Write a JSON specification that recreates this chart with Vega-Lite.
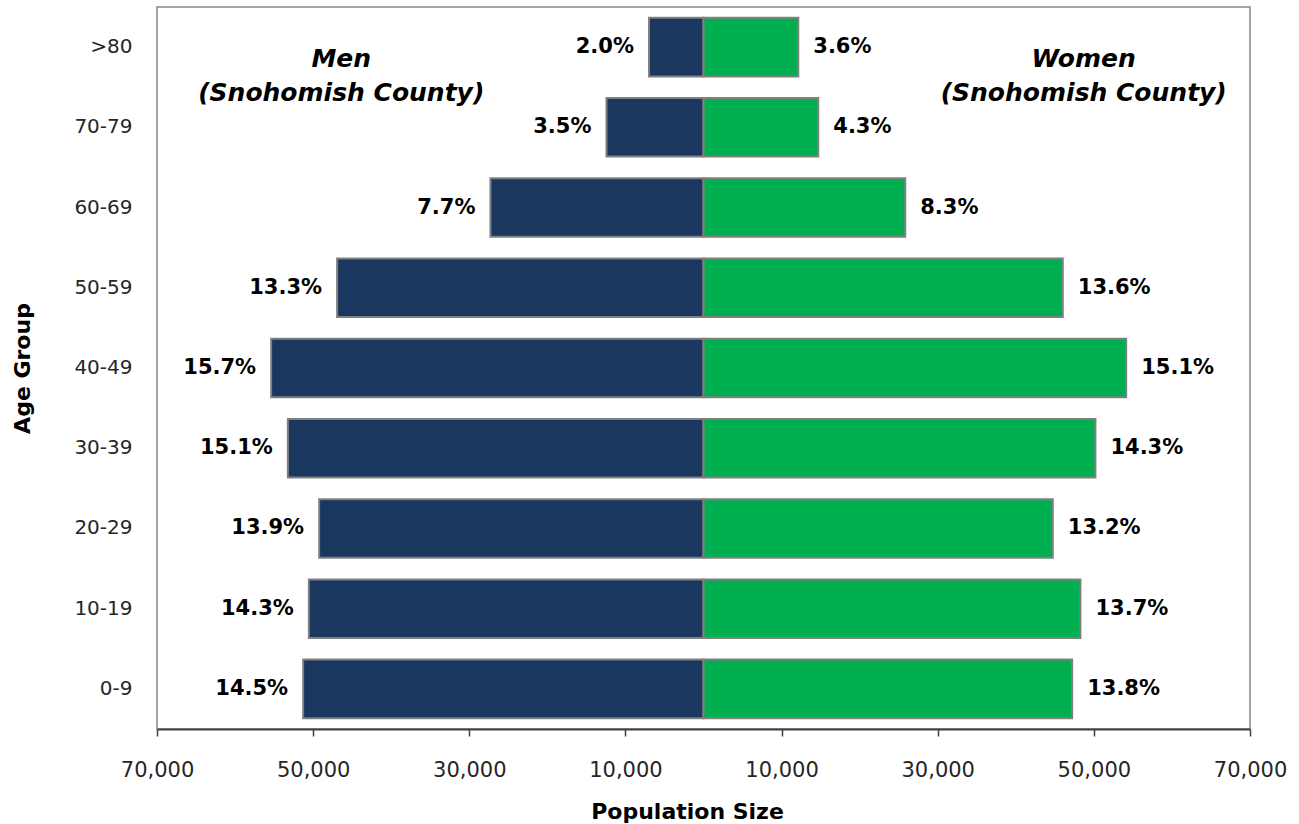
{
  "$schema": "https://vega.github.io/schema/vega-lite/v6.json",
  "autosize": {"type": "none"},
  "padding": {"left": 157, "top": 7, "right": 49, "bottom": 95},
  "width": 1093,
  "height": 722,
  "background": "white",
  "config": {
    "font": "DejaVu Sans",
    "view": {"stroke": "#868686", "strokeWidth": 1.5}
  },
  "datasets": {
    "pyramid": [
      {"age": ">80", "sex": "Men", "value": -6980, "label": "2.0%"},
      {"age": "70-79", "sex": "Men", "value": -12430, "label": "3.5%"},
      {"age": "60-69", "sex": "Men", "value": -27290, "label": "7.7%"},
      {"age": "50-59", "sex": "Men", "value": -46930, "label": "13.3%"},
      {"age": "40-49", "sex": "Men", "value": -55380, "label": "15.7%"},
      {"age": "30-39", "sex": "Men", "value": -53240, "label": "15.1%"},
      {"age": "20-29", "sex": "Men", "value": -49230, "label": "13.9%"},
      {"age": "10-19", "sex": "Men", "value": -50550, "label": "14.3%"},
      {"age": "0-9", "sex": "Men", "value": -51280, "label": "14.5%"},
      {"age": ">80", "sex": "Women", "value": 12140, "label": "3.6%"},
      {"age": "70-79", "sex": "Women", "value": 14700, "label": "4.3%"},
      {"age": "60-69", "sex": "Women", "value": 25840, "label": "8.3%"},
      {"age": "50-59", "sex": "Women", "value": 46020, "label": "13.6%"},
      {"age": "40-49", "sex": "Women", "value": 54140, "label": "15.1%"},
      {"age": "30-39", "sex": "Women", "value": 50200, "label": "14.3%"},
      {"age": "20-29", "sex": "Women", "value": 44740, "label": "13.2%"},
      {"age": "10-19", "sex": "Women", "value": 48280, "label": "13.7%"},
      {"age": "0-9", "sex": "Women", "value": 47220, "label": "13.8%"}
    ],
    "notes": [
      {"age": ">80", "x": -46400, "text": "Men\n(Snohomish County)"},
      {"age": ">80", "x": 48700, "text": "Women\n(Snohomish County)"}
    ]
  },
  "layer": [
    {
      "data": {"name": "pyramid"},
      "mark": {"type": "bar", "stroke": "#808080", "strokeWidth": 2},
      "encoding": {
        "y": {
          "field": "age",
          "type": "nominal",
          "sort": [">80", "70-79", "60-69", "50-59", "40-49", "30-39", "20-29", "10-19", "0-9"],
          "scale": {"paddingInner": 0.27, "paddingOuter": 0.135},
          "axis": {
            "title": "Age Group",
            "titleFont": "DejaVu Sans",
            "titleFontSize": 22,
            "titleFontWeight": "bold",
            "titleColor": "#000000",
            "titleX": -135,
            "titleY": 361,
            "titleAngle": -90,
            "titleBaseline": "middle",
            "titleAlign": "center",
            "domain": false,
            "ticks": false,
            "labelPadding": 25,
            "labelFontSize": 20,
            "labelColor": "#262626",
            "labelFont": "DejaVu Sans"
          }
        },
        "x": {
          "field": "value",
          "type": "quantitative",
          "scale": {"domain": [-70000, 70000], "nice": false, "zero": false},
          "axis": {
            "title": "Population Size",
            "titleFont": "DejaVu Sans",
            "titleFontSize": 22,
            "titleFontWeight": "bold",
            "titleColor": "#000000",
            "titleX": 530,
            "titleY": 89,
            "titleBaseline": "alphabetic",
            "titleAlign": "center",
            "values": [-70000, -50000, -30000, -10000, 10000, 30000, 50000, 70000],
            "labelExpr": "format(abs(datum.value), ',')",
            "labelFlush": false,
            "labelOverlap": false,
            "labelBound": false,
            "grid": false,
            "domainColor": "#404040",
            "domainWidth": 2,
            "tickColor": "#404040",
            "tickWidth": 1.5,
            "tickSize": 7,
            "labelPadding": 23,
            "labelFontSize": 21,
            "labelColor": "#262626",
            "labelFont": "DejaVu Sans"
          }
        },
        "color": {
          "field": "sex",
          "type": "nominal",
          "scale": {"domain": ["Men", "Women"], "range": ["#1a375f", "#00b050"]},
          "legend": null
        }
      }
    },
    {
      "mark": {"type": "rule", "color": "#a6a6a6", "strokeWidth": 1},
      "encoding": {"x": {"datum": 0}}
    },
    {
      "data": {"name": "pyramid"},
      "transform": [{"filter": "datum.sex === 'Men'"}],
      "mark": {"type": "text", "align": "right", "baseline": "middle", "dx": -15, "fontSize": 21, "fontWeight": "bold", "color": "#000000"},
      "encoding": {
        "y": {"field": "age", "type": "nominal", "sort": [">80", "70-79", "60-69", "50-59", "40-49", "30-39", "20-29", "10-19", "0-9"]},
        "x": {"field": "value", "type": "quantitative"},
        "text": {"field": "label"}
      }
    },
    {
      "data": {"name": "pyramid"},
      "transform": [{"filter": "datum.sex === 'Women'"}],
      "mark": {"type": "text", "align": "left", "baseline": "middle", "dx": 15, "fontSize": 21, "fontWeight": "bold", "color": "#000000"},
      "encoding": {
        "y": {"field": "age", "type": "nominal", "sort": [">80", "70-79", "60-69", "50-59", "40-49", "30-39", "20-29", "10-19", "0-9"]},
        "x": {"field": "value", "type": "quantitative"},
        "text": {"field": "label"}
      }
    },
    {
      "data": {"name": "notes"},
      "mark": {"type": "text", "align": "center", "baseline": "middle", "dy": 12, "lineBreak": "\n", "lineHeight": 34, "fontSize": 25, "fontWeight": "bold", "fontStyle": "italic", "color": "#000000"},
      "encoding": {
        "y": {"field": "age", "type": "nominal", "sort": [">80", "70-79", "60-69", "50-59", "40-49", "30-39", "20-29", "10-19", "0-9"]},
        "x": {"field": "x", "type": "quantitative"},
        "text": {"field": "text"}
      }
    }
  ]
}
